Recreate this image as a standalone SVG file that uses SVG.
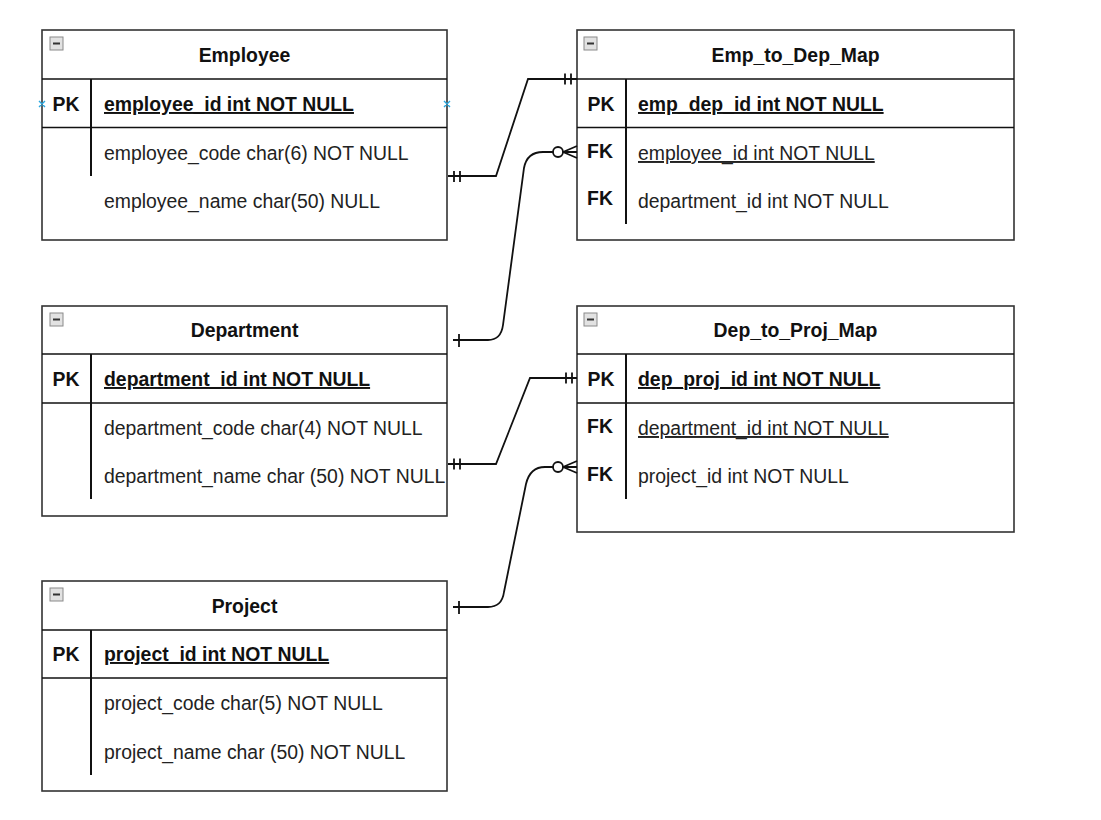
<svg xmlns="http://www.w3.org/2000/svg" width="1101" height="820" viewBox="0 0 1101 820">
<style>
.tbl{fill:#fff;stroke:#333;stroke-width:1.6}
.sep{stroke:#111;stroke-width:1.6;fill:none}
.div{stroke:#111;stroke-width:2;fill:none}
text{font-family:"Liberation Sans",Arial,Helvetica,sans-serif;font-size:19.4px;fill:#111}
.title{font-weight:bold;text-anchor:middle}
.key{font-weight:bold;text-anchor:middle}
.pk{font-weight:bold;text-decoration:underline}
.ul{text-decoration:underline}
.fld{fill:#222}
.conn{stroke:#111;stroke-width:1.8;fill:none}
.icon{fill:#e2e2e2;stroke:#8a8a8a;stroke-width:1}
.minus{stroke:#333;stroke-width:2}
.blue{stroke:#29a8e0;stroke-width:1.4}
</style>
<defs>
<g id="collapse"><rect class="icon" x="0" y="0" width="13" height="13"/><line class="minus" x1="3" y1="6.5" x2="10" y2="6.5"/></g>
</defs>

<g id="Employee">
<rect class="tbl" x="42" y="30" width="405" height="210"/>
<use href="#collapse" x="50" y="37"/>
<text class="title" x="244.5" y="62">Employee</text>
<line class="sep" x1="42" y1="79" x2="447" y2="79"/>
<line class="sep" x1="42" y1="127.5" x2="447" y2="127.5"/>
<line class="div" x1="91" y1="79" x2="91" y2="176"/>
<text class="key" x="66" y="111">PK</text>
<text class="pk" x="104" y="111">employee_id int NOT NULL</text>
<text class="fld" x="104" y="160">employee_code char(6) NOT NULL</text>
<text class="fld" x="104" y="208">employee_name char(50) NULL</text>
<path class="blue" d="M39,101 l6,6 M45,101 l-6,6 M444,101 l6,6 M450,101 l-6,6"/>
</g>

<g id="Department">
<rect class="tbl" x="42" y="306" width="405" height="210"/>
<use href="#collapse" x="50" y="313"/>
<text class="title" x="244.5" y="337">Department</text>
<line class="sep" x1="42" y1="354" x2="447" y2="354"/>
<line class="sep" x1="42" y1="403" x2="447" y2="403"/>
<line class="div" x1="91" y1="354" x2="91" y2="499"/>
<text class="key" x="66" y="386">PK</text>
<text class="pk" x="104" y="386">department_id int NOT NULL</text>
<text class="fld" x="104" y="435">department_code char(4) NOT NULL</text>
<text class="fld" x="104" y="483">department_name char (50) NOT NULL</text>
</g>

<g id="Project">
<rect class="tbl" x="42" y="581" width="405" height="210"/>
<use href="#collapse" x="50" y="588"/>
<text class="title" x="244.5" y="613">Project</text>
<line class="sep" x1="42" y1="630" x2="447" y2="630"/>
<line class="sep" x1="42" y1="678" x2="447" y2="678"/>
<line class="div" x1="91" y1="630" x2="91" y2="775"/>
<text class="key" x="66" y="661">PK</text>
<text class="pk" x="104" y="661">project_id int NOT NULL</text>
<text class="fld" x="104" y="710">project_code char(5) NOT NULL</text>
<text class="fld" x="104" y="759">project_name char (50) NOT NULL</text>
</g>

<g id="Emp_to_Dep_Map">
<rect class="tbl" x="577" y="30" width="437" height="210"/>
<use href="#collapse" x="584" y="37"/>
<text class="title" x="795.5" y="62">Emp_to_Dep_Map</text>
<line class="sep" x1="577" y1="79" x2="1014" y2="79"/>
<line class="sep" x1="577" y1="127.5" x2="1014" y2="127.5"/>
<line class="div" x1="626" y1="79" x2="626" y2="224"/>
<text class="key" x="601" y="111">PK</text>
<text class="pk" x="638" y="111">emp_dep_id int NOT NULL</text>
<text class="key" x="600" y="158">FK</text>
<text class="fld ul" x="638" y="160">employee_id int NOT NULL</text>
<text class="key" x="600" y="205">FK</text>
<text class="fld" x="638" y="208">department_id int NOT NULL</text>
</g>

<g id="Dep_to_Proj_Map">
<rect class="tbl" x="577" y="306" width="437" height="226"/>
<use href="#collapse" x="584" y="313"/>
<text class="title" x="795.5" y="337">Dep_to_Proj_Map</text>
<line class="sep" x1="577" y1="354" x2="1014" y2="354"/>
<line class="sep" x1="577" y1="403" x2="1014" y2="403"/>
<line class="div" x1="626" y1="354" x2="626" y2="499"/>
<text class="key" x="601" y="386">PK</text>
<text class="pk" x="638" y="386">dep_proj_id int NOT NULL</text>
<text class="key" x="600" y="433">FK</text>
<text class="fld ul" x="638" y="435">department_id int NOT NULL</text>
<text class="key" x="600" y="481">FK</text>
<text class="fld" x="638" y="483">project_id int NOT NULL</text>
</g>

<g id="connectors">
<!-- Employee -> Emp_to_Dep_Map (one to one) -->
<path class="conn" d="M448,176 L496,176 L528,79 L577,79"/>
<path class="conn" d="M454,171 V182 M460,171 V182 M565,73.5 V84.5 M571,73.5 V84.5"/>
<!-- Department -> Emp_to_Dep_Map (one to zero-or-many) -->
<path class="conn" d="M453,340 L488,340 Q501,340 503,325 L524,168 Q527,152 543,152 L553,152"/>
<path class="conn" d="M459,334 V347"/>
<circle class="conn" cx="558" cy="152" r="5" fill="#fff"/>
<path class="conn" d="M563,152 L577,146 M563,152 L577,152 M563,152 L577,158"/>
<!-- Department -> Dep_to_Proj_Map (one to one) -->
<path class="conn" d="M448,464 L496,464 L530,378 L577,378"/>
<path class="conn" d="M454,458.5 V469.5 M460,458.5 V469.5 M566,372.5 V383.5 M572,372.5 V383.5"/>
<!-- Project -> Dep_to_Proj_Map (one to zero-or-many) -->
<path class="conn" d="M453,607 L488,607 Q502,607 504,592 L526,484 Q530,467 545,467 L553,467"/>
<path class="conn" d="M459,601 V614"/>
<circle class="conn" cx="558" cy="467" r="5" fill="#fff"/>
<path class="conn" d="M563,467 L577,461 M563,467 L577,467 M563,467 L577,473"/>
</g>
</svg>
